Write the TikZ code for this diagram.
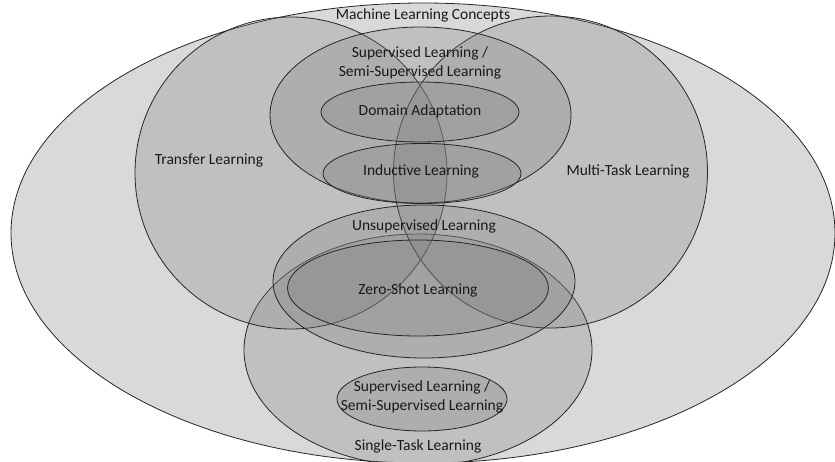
\documentclass[tikz,border=0pt]{standalone}
\usepackage{fontspec}
\setmainfont{Carlito}
\begin{document}
\begin{tikzpicture}[x=1pt,y=-1pt,
  setshape/.style={draw=black!85, line width=0.8pt, fill=black!50, fill opacity=0.28},
  outershape/.style={draw=black!85, line width=0.8pt, fill=black!15},
  lbl/.style={font=\fontsize{15.5}{19}\selectfont, text=black!90, inner sep=0pt, align=center}]
\useasboundingbox (0,0) rectangle (835,461);
\clip (0,0) rectangle (835,461);
% sets
\draw[outershape] (423,233) ellipse [x radius=412pt, y radius=230pt];
\draw[setshape] (418,350) ellipse [x radius=174pt, y radius=116pt];
\draw[setshape] (291,173) ellipse [x radius=156pt, y radius=156pt];
\draw[setshape] (550.5,172) ellipse [x radius=157pt, y radius=156pt];
\draw[setshape] (420.5,115) ellipse [x radius=150.5pt, y radius=88pt];
\draw[setshape] (420,112) ellipse [x radius=99pt, y radius=30pt];
\draw[setshape] (422,173.5) ellipse [x radius=99pt, y radius=30pt];
\draw[setshape] (424,281.5) ellipse [x radius=151pt, y radius=76.5pt];
\draw[setshape] (418,288) ellipse [x radius=130.5pt, y radius=48pt];
\draw[setshape] (422,399) ellipse [x radius=85pt, y radius=32pt];
% labels
\node[lbl] (mlc) at (423,15) {Machine Learning Concepts};
\node[lbl] (sup1) at (420,63) {Supervised Learning /\\Semi-Supervised Learning};
\node[lbl] (da) at (420,111) {Domain Adaptation};
\node[lbl] (ind) at (421,171) {Inductive Learning};
\node[lbl] (tl) at (209,160) {Transfer Learning};
\node[lbl] (mtl) at (628,171) {Multi-Task Learning};
\node[lbl] (usl) at (424,226) {Unsupervised Learning};
\node[lbl] (zsl) at (418,290) {Zero-Shot Learning};
\node[lbl] (sup2) at (422,397) {Supervised Learning /\\Semi-Supervised Learning};
\node[lbl] (stl) at (418,446) {Single-Task Learning};
\end{tikzpicture}
\end{document}
